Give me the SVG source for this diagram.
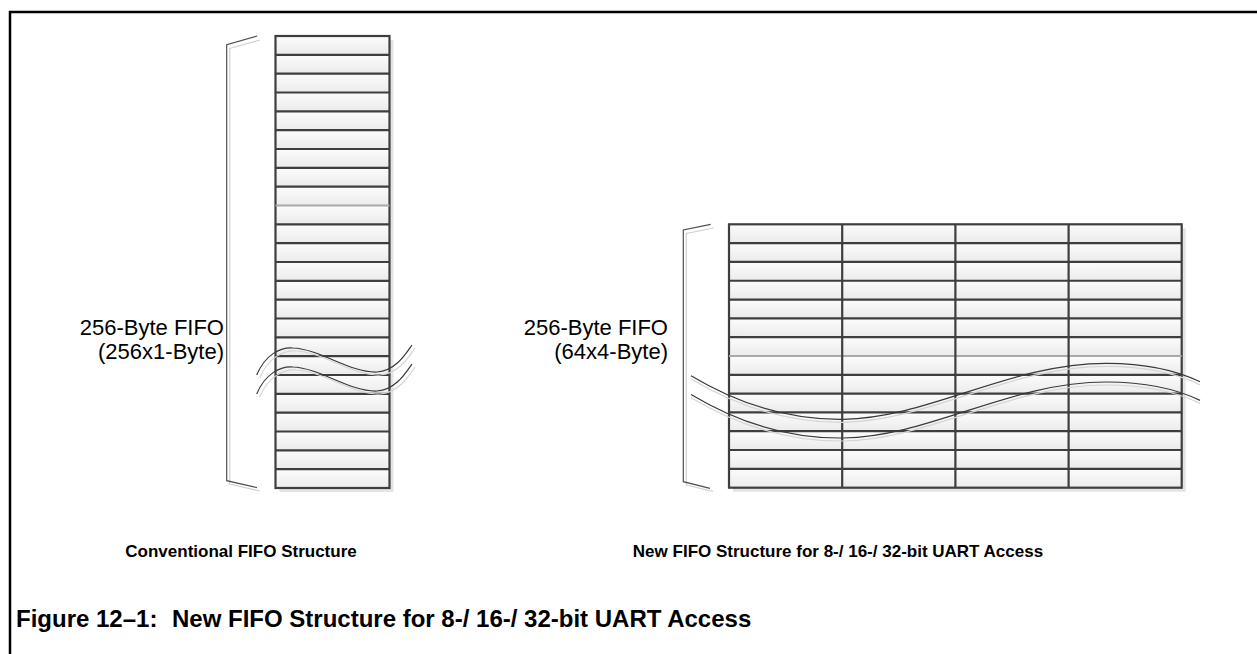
<svg xmlns="http://www.w3.org/2000/svg" width="1257" height="654" viewBox="0 0 1257 654">
<defs>
<linearGradient id="cellg" x1="0" y1="0" x2="0" y2="1">
<stop offset="0" stop-color="#fcfcfc"/>
<stop offset="1" stop-color="#ebebeb"/>
</linearGradient>
<pattern id="leftRows" x="275.5" y="36" width="114" height="18.83" patternUnits="userSpaceOnUse">
<rect x="0" y="0" width="114" height="18.83" fill="url(#cellg)"/>
</pattern>
<pattern id="rightRows" x="729" y="224.3" width="452.7" height="18.81" patternUnits="userSpaceOnUse">
<rect x="0" y="0" width="452.7" height="18.81" fill="url(#cellg)"/>
</pattern>
</defs>
<style>
.frame{fill:none;stroke:#000;stroke-width:2.5}
.shadow{fill:#e4e4e4}
.gl{stroke:#3e3e3e;stroke-width:2.2;fill:none}
.glite{stroke:#a8a8a8;stroke-width:2;fill:none}
.brace{fill:none;stroke:#505050;stroke-width:1.2}
.braceS{fill:none;stroke:#d0d0d0;stroke-width:1.2}
.wave{fill:none;stroke:#3a3a3a;stroke-width:1.2}
.waveS{fill:none;stroke:#d4d4d4;stroke-width:1.2}
.lbl{font-family:"Liberation Sans",Arial,sans-serif;font-size:22px;fill:#000;text-anchor:end}
.cap{font-family:"Liberation Sans",Arial,sans-serif;font-size:17px;font-weight:bold;fill:#000;text-anchor:middle}
.title{font-family:"Liberation Sans",Arial,sans-serif;font-size:24px;font-weight:bold;fill:#000}
</style>
<path class="frame" d="M10,654 V12 H1257"/>
<g id="conventional-fifo">
<rect class="shadow" x="279.5" y="40" width="114" height="452"/>
<rect x="275.5" y="36" width="114" height="452" fill="url(#leftRows)" stroke="#3e3e3e" stroke-width="2.2"/>
<path class="gl" d="M275.5,54.83H389.5M275.5,73.67H389.5M275.5,92.5H389.5M275.5,111.33H389.5M275.5,130.17H389.5M275.5,149H389.5M275.5,167.83H389.5M275.5,186.67H389.5M275.5,224.33H389.5M275.5,243.17H389.5M275.5,262H389.5M275.5,280.83H389.5M275.5,299.67H389.5M275.5,318.5H389.5M275.5,337.33H389.5M275.5,356.17H389.5M275.5,375H389.5M275.5,393.83H389.5M275.5,412.67H389.5M275.5,431.5H389.5M275.5,450.33H389.5M275.5,469.17H389.5"/>
<path class="glite" d="M275.5,205.5H389.5"/>
</g>
<g id="left-brace">
<path class="braceS" d="M260,40 L229.7,48.5 V484 L260,491"/>
<path class="brace" d="M257.3,36 L226.7,44.7 V480.7 L257,487.7"/>
</g>
<g id="left-label">
<text class="lbl" x="224" y="335">256-Byte FIFO</text>
<text class="lbl" x="224" y="359">(256x1-Byte)</text>
</g>
<g id="left-break">
<path class="waveS" d="M259.7,378 C268,358 283,350 296,351 C323,352 353,376 380,375 C398,374 408,358 415,348"/>
<path class="wave" d="M256.7,375 C265,355 280,347 293,348 C320,349 350,373 377,372 C395,371 405,355 412,345"/>
<path class="waveS" d="M259.7,397 C268,377 283,369 296,370 C323,371 353,395 380,394 C398,393 408,377 415,367"/>
<path class="wave" d="M256.7,394 C265,374 280,366 293,367 C320,368 350,392 377,391 C395,390 405,374 412,364"/>
</g>
<g id="new-fifo">
<rect class="shadow" x="733" y="228.3" width="452.7" height="263.4"/>
<rect x="729" y="224.3" width="452.7" height="263.4" fill="url(#rightRows)" stroke="#3e3e3e" stroke-width="2.2"/>
<path class="gl" d="M729,243.11H1181.7M729,261.92H1181.7M729,280.73H1181.7M729,299.54H1181.7M729,318.35H1181.7M729,337.16H1181.7M729,374.78H1181.7M729,393.59H1181.7M729,412.4H1181.7M729,431.21H1181.7M729,450.02H1181.7M729,468.83H1181.7"/>
<path class="glite" d="M729,355.97H1181.7"/>
<path class="gl" d="M842.2,224.3V487.7M955.4,224.3V487.7M1068.6,224.3V487.7"/>
</g>
<g id="right-brace">
<path class="braceS" d="M713.7,228 L686.3,233.5 V485 L713,491.5"/>
<path class="brace" d="M710.7,224.3 L683.3,230 V481.7 L710,488.3"/>
</g>
<g id="right-label">
<text class="lbl" x="668" y="335">256-Byte FIFO</text>
<text class="lbl" x="668" y="359">(64x4-Byte)</text>
</g>
<g id="right-break">
<path class="waveS" d="M691,379 C740,408 790,423 843,422.3 C930,421 1010,366 1107,366.3 C1150,366.5 1180,375 1200,384.7"/>
<path class="wave" d="M691,375.7 C740,405 790,420 843,419.3 C930,418 1010,363 1107,363.3 C1150,363.5 1180,372 1200,381.7"/>
<path class="waveS" d="M691,397.7 C740,426.7 790,441.7 843,441 C930,439.7 1010,384.7 1107,385 C1150,385.2 1180,393.7 1200,403.4"/>
<path class="wave" d="M691,394.4 C740,423.7 790,438.7 843,438 C930,436.7 1010,381.7 1107,382 C1150,382.2 1180,390.7 1200,400.4"/>
</g>
<g id="captions">
<text class="cap" x="241" y="557">Conventional FIFO Structure</text>
<text class="cap" x="838" y="557">New FIFO Structure for 8-/ 16-/ 32-bit UART Access</text>
</g>
<g id="figure-title">
<text class="title" x="16" y="627" font-size="22">Figure 12–1:</text>
<text class="title" x="172" y="627">New FIFO Structure for 8-/ 16-/ 32-bit UART Access</text>
</g>
</svg>
